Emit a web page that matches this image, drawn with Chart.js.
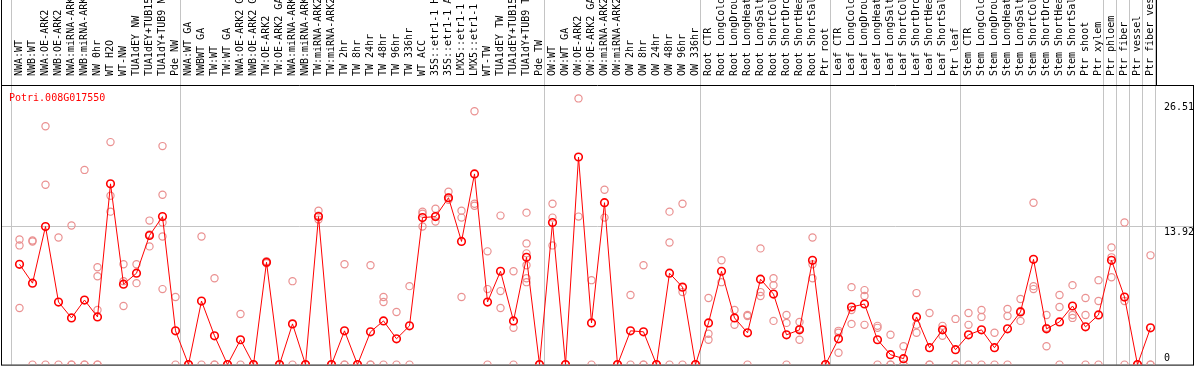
<!DOCTYPE html>
<html>
<head>
<meta charset="utf-8">
<script src="https://cdn.jsdelivr.net/npm/chart.js@4.4.0/dist/chart.umd.min.js"></script>
<style>
  html, body { margin: 0; padding: 0; background: #fff; }
</style>
</head>
<body>
<canvas id="GeneExprChart" width="1194" height="370"></canvas>
<script>
var gene_name = 'Potri.008G017550';

var samples = [
  'NWA:WT', 'NWB:WT', 'NWA:OE-ARK2', 'NWB:OE-ARK2', 'NWA:miRNA-ARK2', 'NWB:miRNA-ARK2',
  'NW 0hr', 'WT H2O', 'WT-NW', 'TUA1dEY NW', 'TUA1dEY+TUB15 NW', 'TUA1dY+TUB9 NW', 'Pde NW',
  'NWA:WT GA', 'NWBWT GA', 'TW:WT', 'TW:WT GA', 'NWA:OE-ARK2 GA', 'NWB:OE-ARK2 GA',
  'TW:OE-ARK2', 'TW:OE-ARK2 GA', 'NWA:miRNA-ARK2 GA', 'NWB:miRNA-ARK2 GA', 'TW:miRNA-ARK2',
  'TW:miRNA-ARK2 GA', 'TW 2hr', 'TW 8hr', 'TW 24hr', 'TW 48hr', 'TW 96hr', 'TW 336hr',
  'WT ACC', '35S::etr1-1 H2O', '35S::etr1-1 ACC', 'LMX5::etr1-1 H2O', 'LMX5::etr1-1 ACC',
  'WT-TW', 'TUA1dEY TW', 'TUA1dEY+TUB15 TW', 'TUA1dY+TUB9 TW', 'Pde TW',
  'OW:WT', 'OW:WT GA', 'OW:OE-ARK2', 'OW:OE-ARK2 GA', 'OW:miRNA-ARK2', 'OW:miRNA-ARK2 GA',
  'OW 2hr', 'OW 8hr', 'OW 24hr', 'OW 48hr', 'OW 96hr', 'OW 336hr',
  'Root CTR', 'Root LongCold', 'Root LongDrought', 'Root LongHeat', 'Root LongSalt',
  'Root ShortCold', 'Root ShortDrought', 'Root ShortHeat', 'Root ShortSalt', 'Ptr root',
  'Leaf CTR', 'Leaf LongCold', 'Leaf LongDrought', 'Leaf LongHeat', 'Leaf LongSalt',
  'Leaf ShortCold', 'Leaf ShortDrought', 'Leaf ShortHeat', 'Leaf ShortSalt', 'Ptr leaf',
  'Stem CTR', 'Stem LongCold', 'Stem LongDrought', 'Stem LongHeat', 'Stem LongSalt',
  'Stem ShortCold', 'Stem ShortDrought', 'Stem ShortHeat', 'Stem ShortSalt', 'Ptr shoot',
  'Ptr xylem', 'Ptr phloem', 'Ptr fiber', 'Ptr vessel', 'Ptr fiber vessel'
];

var mean_values = [
  10.1, 8.2, 13.9, 6.3, 4.7, 6.5, 4.8, 18.2, 8.1, 9.2, 13.0, 14.9, 3.4,
  0, 6.4, 2.9, 0, 2.5, 0, 10.3, 0, 4.1, 0, 14.9, 0, 3.4, 0, 3.3, 4.4, 2.6, 3.9,
  14.8, 14.9, 16.8, 12.4, 19.2, 6.3, 9.4, 4.4, 10.8, 0,
  14.3, 0, 20.9, 4.2, 16.3, 0, 3.4, 3.3, 0, 9.2, 7.8, 0,
  4.2, 9.4, 4.7, 3.2, 8.6, 7.1, 3.0, 3.5, 10.5, 0,
  2.6, 5.8, 6.1, 2.5, 1.0, 0.6, 4.8, 1.7, 3.5, 1.5,
  3.0, 3.5, 1.7, 3.6, 5.3, 10.6, 3.6, 4.3, 5.9, 3.8, 5.0,
  10.5, 6.8, 0, 3.7
];

// individual replicate values per sample
var replicates = [
  [12.6, 12.0, 5.7], [12.4, 12.5, 0], [24.0, 18.1, 0], [12.8, 0], [14.0, 0, 0], [19.6, 0, 0],
  [9.8, 8.9, 5.5, 0, 0], [22.4, 17.0, 15.4], [10.1, 8.4, 5.9], [10.1, 8.2], [14.5, 13.1, 11.9],
  [22.0, 17.1, 14.3, 12.9, 7.6], [6.8, 0],
  [0, 0], [12.9, 0], [8.7, 0, 0], [0, 0], [5.1, 0], [0, 0], [10.4, 10.3, 10.2], [0, 0],
  [8.4, 0], [0, 0], [15.5, 15.0, 14.6], [0, 0], [10.1, 0, 0], [0, 0], [10.0, 0, 0],
  [6.8, 6.3, 0], [5.3, 0], [7.9, 0],
  [15.4, 15.2, 13.9], [15.7, 14.9, 14.4], [17.4, 16.8, 16.6], [15.5, 14.8, 6.8], [25.5, 16.2, 16.0],
  [11.4, 7.6, 0], [15.0, 7.4, 5.7], [9.4, 3.7, 0], [15.3, 12.2, 11.2, 10.0, 8.7, 8.3], [0, 0],
  [16.2, 14.8, 12.0], [0, 0], [26.8, 14.9], [8.5, 0], [17.6, 14.8], [0, 0],
  [7.0, 0], [10.0, 0, 0], [0, 0], [15.4, 12.3, 0], [16.2, 7.3, 0], [0, 0],
  [6.7, 3.1, 2.5], [10.5, 8.3], [5.5, 4.0], [5.0, 4.9, 0], [11.7, 7.3, 6.9],
  [8.7, 8.0, 4.4], [5.0, 4.2, 0], [4.3, 3.6, 2.5], [12.8, 10.1, 8.7], [0],
  [3.4, 3.2, 1.2], [7.8, 5.5, 4.1], [7.5, 6.9, 4.0], [3.9, 3.7, 0], [3.0, 0, 0],
  [1.85, 0, 0], [7.2, 4.0, 3.2], [5.2, 0, 0], [3.9, 3.5, 2.9], [4.6, 0, 0],
  [5.2, 4.0, 0], [5.5, 4.8, 0], [3.2, 0], [5.6, 4.9, 0], [6.6, 5.4, 4.4],
  [16.3, 7.9, 7.6], [5.0, 3.7, 1.85], [7.0, 5.8, 0], [8.0, 5.0, 4.7], [6.7, 5.0, 0],
  [8.5, 6.4, 0], [11.8, 10.8, 8.8], [14.3, 6.4, 0], [0, 0], [11.0, 0, 0]
];

var y_ticks = [0, 13.92, 26.51];
var y_max = 28.15;
// sample index where a new group starts (vertical separators)
var group_breaks = [0, 13, 41, 53, 63, 73, 84, 85, 86, 87, 88];

var MONO = '"DejaVu Sans Mono", monospace';

// one scatter-like dataset per replicate slot
var rep_datasets = [];
var max_reps = 0;
replicates.forEach(function(r){ if (r.length > max_reps) max_reps = r.length; });
for (var k = 0; k < max_reps; k++) {
  rep_datasets.push({
    label: 'rep' + (k + 1),
    data: replicates.map(function(r){ return r.length > k ? r[k] : null; }),
    showLine: false,
    borderColor: 'rgb(234,145,145)',
    backgroundColor: 'rgba(0,0,0,0)',
    pointRadius: 3.6,
    pointBorderWidth: 1.2,
    pointHoverRadius: 3.6
  });
}

var framePlugin = {
  id: 'frame',
  beforeDatasetsDraw: function(chart) {
    var ctx = chart.ctx, xs = chart.scales.x, ys = chart.scales.y, a = chart.chartArea;
    var band = xs.getPixelForValue(1) - xs.getPixelForValue(0);
    ctx.save();
    ctx.lineWidth = 1;
    ctx.strokeStyle = '#c4c4c4';
    var gy = Math.round(ys.getPixelForValue(y_ticks[1])) + 0.5;
    ctx.beginPath(); ctx.moveTo(2, gy); ctx.lineTo(1193, gy); ctx.stroke();
    group_breaks.forEach(function(k){
      var px = Math.round(xs.getPixelForValue(0) + (k - 0.5) * band - 2) + 0.5;
      ctx.beginPath(); ctx.moveTo(px, 0); ctx.lineTo(px, a.bottom); ctx.stroke();
    });
    ctx.strokeStyle = '#000';
    ctx.beginPath();
    ctx.moveTo(1.5, 0); ctx.lineTo(1.5, a.bottom + 0.5);
    ctx.moveTo(1, a.top + 0.5); ctx.lineTo(1194, a.top + 0.5);
    ctx.moveTo(1, a.bottom + 0.5); ctx.lineTo(1194, a.bottom + 0.5);
    ctx.moveTo(1193.5, a.top); ctx.lineTo(1193.5, a.bottom + 0.5);
    ctx.moveTo(1156.5, 0); ctx.lineTo(1156.5, a.top);
    ctx.stroke();
    ctx.restore();
  },
  afterDraw: function(chart) {
    var ctx = chart.ctx, ys = chart.scales.y, a = chart.chartArea;
    ctx.save();
    ctx.font = '10px ' + MONO;
    ctx.textBaseline = 'alphabetic';
    ctx.textAlign = 'left';
    ctx.fillStyle = '#ff0000';
    ctx.fillText(gene_name, 9, a.top + 16);
    ctx.fillStyle = '#000';
    y_ticks.forEach(function(v){
      var py = ys.getPixelForValue(v);
      ctx.fillText(String(v), a.right + 7, v === 0 ? py - 4 : py + 9);
    });
    ctx.restore();
  }
};

var ctx = document.getElementById('GeneExprChart');
var myLineChart = new Chart(ctx, {
  type: 'line',
  data: {
    labels: samples,
    datasets: [{
      label: gene_name,
      data: mean_values,
      borderColor: '#ff0000',
      borderWidth: 1,
      backgroundColor: 'rgba(0,0,0,0)',
      pointBorderColor: '#ff0000',
      pointRadius: 3.8,
      pointBorderWidth: 1.6,
      pointHoverRadius: 3.8,
      tension: 0
    }].concat(rep_datasets)
  },
  options: {
    responsive: false,
    animation: false,
    devicePixelRatio: 1,
    layout: { padding: { left: 13, right: 37, top: 0, bottom: 1 } },
    plugins: { legend: { display: false }, tooltip: { enabled: false }, title: { display: false } },
    scales: {
      x: {
        type: 'category',
        position: 'top',
        offset: true,
        grid: { display: false },
        border: { display: false },
        ticks: {
          autoSkip: false,
          minRotation: 90,
          maxRotation: 90,
          padding: 1,
          labelOffset: 12,
          color: '#000',
          font: { family: MONO, size: 10 }
        },
        afterFit: function(scale){ scale.height = 85; }
      },
      y: {
        type: 'linear',
        min: 0,
        max: y_max,
        display: false
      }
    }
  },
  plugins: [framePlugin]
});
</script>
</body>
</html>
